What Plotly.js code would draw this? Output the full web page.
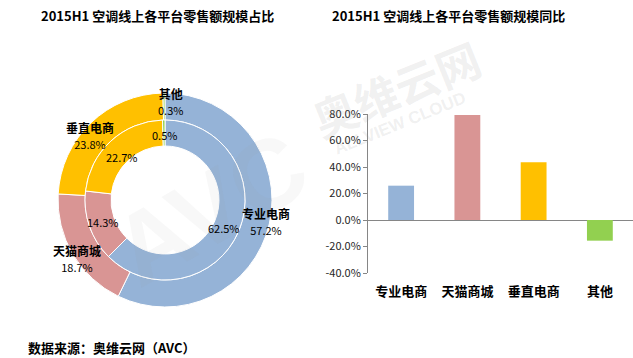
<!DOCTYPE html>
<html>
<head>
<meta charset="utf-8">
<script src="https://cdn.plot.ly/plotly-3.0.1.min.js"></script>
<style>html,body{margin:0;padding:0;background:#fff;}#chart{width:633px;height:358px;}</style>
</head>
<body>
<div id="chart"></div>
<script>
// ---- data ----
const platforms = ['专业电商', '天猫商城', '垂直电商', '其他'];
const outerShare = [57.2, 18.7, 23.8, 0.3];   // outer ring (%)
const innerShare = [62.5, 14.3, 22.7, 0.5];   // inner ring (%)
const yoyGrowth = [25.9, 79.2, 43.5, -15.6];   // YoY growth (%)
const yTicks = [-40, -20, 0, 20, 40, 60, 80];
const colors = ['#95B3D7', '#D99594', '#FFC000', '#92D050'];

const W = 633, H = 358;
const px = x => x / W, py = y => 1 - y / H;
const FONT = '"Noto Sans CJK SC", "Noto Sans", sans-serif';

// donut geometry (pixels)
const cx = 165, cy = 200, rOut = 107, rMid = 80, rHole = 54;

const outerPie = {
  type: 'pie', values: outerShare, labels: platforms, sort: false, direction: 'clockwise', rotation: 0,
  marker: {colors: colors, line: {color: '#ffffff', width: 1}},
  hole: rMid / rOut, textinfo: 'none', hoverinfo: 'skip', showlegend: false,
  domain: {x: [px(cx - rOut), px(cx + rOut)], y: [py(cy + rOut), py(cy - rOut)]}
};
const innerPie = {
  type: 'pie', values: innerShare, labels: platforms, sort: false, direction: 'clockwise', rotation: 0,
  marker: {colors: colors, line: {color: '#ffffff', width: 1}},
  hole: rHole / rMid, textinfo: 'none', hoverinfo: 'skip', showlegend: false,
  domain: {x: [px(cx - rMid), px(cx + rMid)], y: [py(cy + rMid), py(cy - rMid)]}
};
const bars = {
  type: 'bar', x: platforms, y: yoyGrowth, marker: {color: colors},
  width: 0.39, xaxis: 'x', yaxis: 'y', hoverinfo: 'skip', showlegend: false
};

// label positions (pixels)
const outerLabelPos = [[266, 221.5], [77, 258.5], [89.5, 135], [170.5, 101.5]];
const innerValPos  = [[224, 228], [103, 222], [122, 157], [164.5, 135]];

const annotations = [];
function ann(text, x, y, size, bold, color, extra) {
  annotations.push(Object.assign({
    text: bold ? '<b>' + text + '</b>' : text, x: px(x), y: py(y), xref: 'paper', yref: 'paper',
    xanchor: 'center', yanchor: 'middle', showarrow: false,
    font: {family: FONT, size: size, color: color || '#000000'}
  }, extra || {}));
}
// watermark
ann('AVC', 210, 208, 100, true, 'rgba(150,150,150,0.07)', {textangle: -30, font: {family: 'Liberation Sans, sans-serif', size: 100, color: 'rgba(150,150,150,0.07)'}});
ann('奥维云网', 396, 88, 44, true, 'rgba(150,150,150,0.15)', {textangle: -22});
ann('ALLVIEW CLOUD', 400, 124, 17, true, 'rgba(150,150,150,0.15)', {textangle: -22, font: {family: 'Liberation Sans, sans-serif', size: 17, color: 'rgba(150,150,150,0.15)'}});

platforms.forEach((p, i) => {
  ann('<b>' + p + '</b><br><span style="font-size:11px">' + outerShare[i].toFixed(1) + '%</span>',
      outerLabelPos[i][0], outerLabelPos[i][1], 12, false, '#000000');
  ann(innerShare[i].toFixed(1) + '%', innerValPos[i][0], innerValPos[i][1], 11, false, '#000000');
});
// titles and source
ann('2015H1 空调线上各平台零售额规模占比', 157.5, 16, 13, true, '#000000');
ann('2015H1 空调线上各平台零售额规模同比', 448, 16, 13, true, '#000000');
ann('数据来源：奥维云网（AVC）', 26, 347, 13, true, '#000000', {xanchor: 'left'});

const layout = {
  width: W, height: H, margin: {l: 0, r: 0, t: 0, b: 0},
  paper_bgcolor: '#ffffff', plot_bgcolor: 'rgba(0,0,0,0)',
  font: {family: FONT},
  xaxis: {
    domain: [px(368), 1], anchor: 'y', showline: false, showgrid: false, zeroline: false,
    ticks: '', ticklabelstandoff: 9,
    tickfont: {family: FONT, size: 13, color: '#000000', weight: 'bold'}
  },
  yaxis: {
    domain: [py(273), py(114)], anchor: 'x', range: [-40, 80], tickvals: yTicks,
    ticktext: yTicks.map(v => v.toFixed(1) + '%'),
    showline: true, linecolor: '#868686', linewidth: 1, showgrid: false,
    zeroline: true, zerolinecolor: '#868686', zerolinewidth: 1,
    ticks: 'outside', ticklen: 4, tickcolor: '#868686',
    tickfont: {family: FONT, size: 11, color: '#262626'}
  },
  annotations: annotations,
  hovermode: false
};

Plotly.newPlot('chart', [outerPie, innerPie, bars], layout, {displayModeBar: false, staticPlot: true});
</script>
</body>
</html>
